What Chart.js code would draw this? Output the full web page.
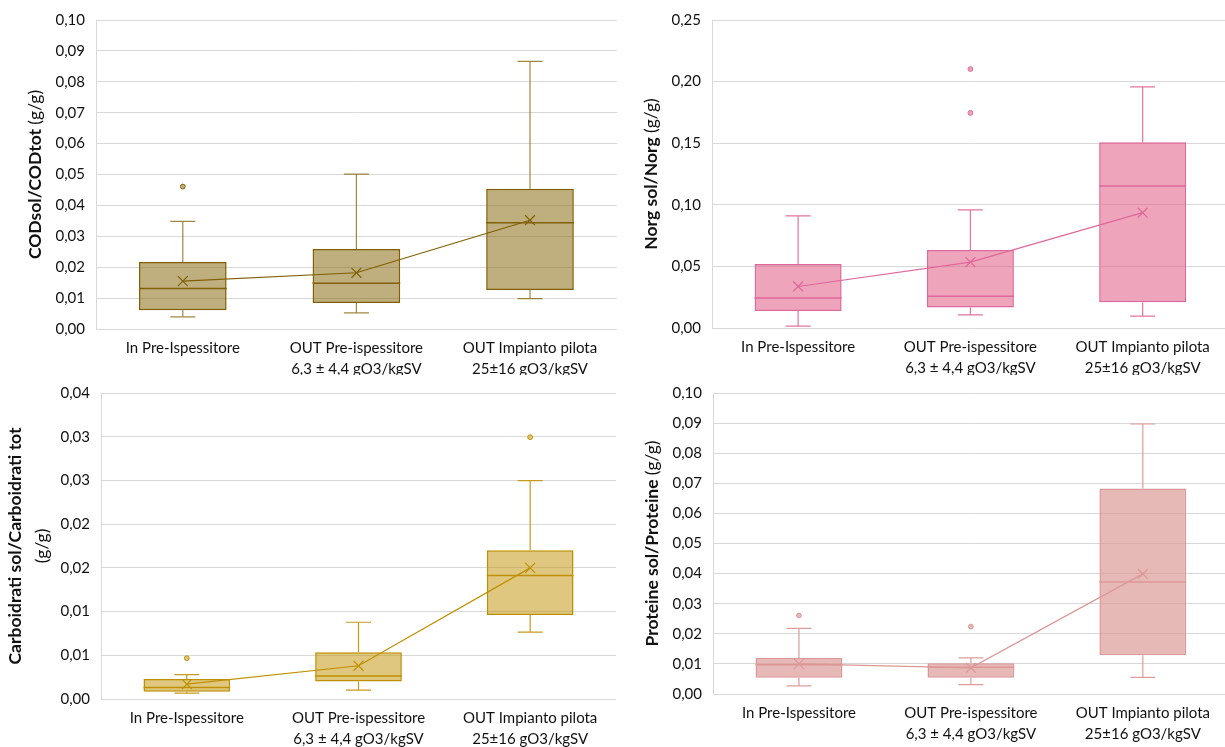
<!DOCTYPE html>
<html>
<head>
<meta charset="utf-8">
<script src="https://cdn.jsdelivr.net/npm/chart.js@4.4.1/dist/chart.umd.min.js"></script>
<style>
  html, body { margin: 0; padding: 0; background: #fff; }
  body { width: 1225px; height: 747px; overflow: hidden; position: relative; }
  canvas { position: absolute; }
</style>
</head>
<body>
<canvas id="cod" width="625" height="375" style="left:0;top:0"></canvas>
<canvas id="norg" width="625" height="375" style="left:612px;top:0"></canvas>
<canvas id="carb" width="625" height="374" style="left:0;top:373px"></canvas>
<canvas id="prot" width="625" height="374" style="left:612px;top:373px"></canvas>
<script>
// Sampling points shared by all four panels
const categories = [
  'In Pre-Ispessitore',
  ['OUT Pre-ispessitore', '6,3 ± 4,4 gO3/kgSV'],
  ['OUT Impianto pilota', '25±16 gO3/kgSV']
];

// COD soluble / COD total
const codQ1 = [0.0061, 0.0084, 0.0126];
const codMedian = [0.0131, 0.0148, 0.0344];
const codQ3 = [0.0217, 0.0259, 0.0454];
const codMin = [0.0039, 0.0052, 0.0098];
const codMax = [0.0348, 0.0501, 0.0866];
const codMean = [0.0155, 0.0182, 0.0352];
const codOutliers = [[0.0461], [], []];
const codTicks = ['0,00', '0,01', '0,02', '0,03', '0,04', '0,05', '0,06', '0,07', '0,08', '0,09', '0,10'];

// Norg soluble / Norg
const norgQ1 = [0.0139, 0.0166, 0.0209];
const norgMedian = [0.0244, 0.0257, 0.1153];
const norgQ3 = [0.0519, 0.0634, 0.1508];
const norgMin = [0.0016, 0.0107, 0.0096];
const norgMax = [0.0910, 0.0958, 0.1957];
const norgMean = [0.0337, 0.0535, 0.0936];
const norgOutliers = [[], [0.2102, 0.1746], []];
const norgTicks = ['0,00', '0,05', '0,10', '0,15', '0,20', '0,25'];

// Carbohydrates soluble / total
const carbQ1 = [0.00083, 0.0020, 0.0096];
const carbMedian = [0.00132, 0.00264, 0.01413];
const carbQ3 = [0.00229, 0.00535, 0.0170];
const carbMin = [0.00068, 0.00102, 0.00765];
const carbMax = [0.00279, 0.00878, 0.02498];
const carbMean = [0.0017, 0.0038, 0.0150];
const carbOutliers = [[0.00467], [], [0.02995]];
const carbTicks = ['0,00', '0,01', '0,01', '0,02', '0,02', '0,03', '0,03', '0,04'];

// Proteins soluble / total
const protQ1 = [0.0054, 0.0054, 0.0129];
const protMedian = [0.0097, 0.0089, 0.0372];
const protQ3 = [0.0120, 0.0102, 0.0683];
const protMin = [0.0027, 0.0031, 0.0055];
const protMax = [0.0218, 0.0120, 0.0897];
const protMean = [0.0100, 0.0087, 0.0399];
const protOutliers = [[0.0261], [0.0224], []];
const protTicks = ['0,00', '0,01', '0,02', '0,03', '0,04', '0,05', '0,06', '0,07', '0,08', '0,09', '0,10'];

const FONT = 'Lato, "Open Sans", sans-serif';
const GRID = '#D9D9D9';
const TEXT = '#111111';

// Whiskers, caps and median lines, drawn right after the box bars
const boxExtras = {
  id: 'boxExtras',
  afterDatasetDraw(chart, args) {
    if (args.index !== 0) return;
    const o = chart.options.plugins.boxExtras;
    const y = chart.scales.y;
    const meta = chart.getDatasetMeta(0);
    const ctx = chart.ctx;
    ctx.save();
    meta.data.forEach((bar, i) => {
      const cx = bar.x;
      const half = bar.width / 2;
      const yQ1 = y.getPixelForValue(o.q1[i]);
      const yQ3 = y.getPixelForValue(o.q3[i]);
      const yLo = y.getPixelForValue(o.min[i]);
      const yHi = y.getPixelForValue(o.max[i]);
      const yMed = y.getPixelForValue(o.median[i]);
      ctx.strokeStyle = o.whiskerColor;
      ctx.lineWidth = 1.2;
      ctx.beginPath();
      ctx.moveTo(cx, yQ3); ctx.lineTo(cx, yHi);
      ctx.moveTo(cx - o.cap, yHi); ctx.lineTo(cx + o.cap, yHi);
      ctx.moveTo(cx, yQ1); ctx.lineTo(cx, yLo);
      ctx.moveTo(cx - o.cap, yLo); ctx.lineTo(cx + o.cap, yLo);
      ctx.stroke();
      ctx.strokeStyle = o.medianColor;
      ctx.lineWidth = 1.5;
      ctx.beginPath();
      ctx.moveTo(cx - half, yMed); ctx.lineTo(cx + half, yMed);
      ctx.stroke();
    });
    ctx.restore();
  }
};

// Rotated y-axis title with a bold part and a regular part
const axisTitle = {
  id: 'axisTitle',
  afterDraw(chart) {
    const o = chart.options.plugins.axisTitle;
    const ctx = chart.ctx;
    const area = chart.chartArea;
    const cy = (area.top + area.bottom) / 2;
    ctx.save();
    ctx.fillStyle = TEXT;
    ctx.textBaseline = 'middle';
    o.lines.forEach(line => {
      ctx.save();
      ctx.translate(line.x, cy);
      ctx.rotate(-Math.PI / 2);
      const bold = 'bold ' + o.size + 'px ' + FONT;
      const reg = o.size + 'px ' + FONT;
      ctx.font = bold;
      const wb = line.bold ? ctx.measureText(line.bold).width : 0;
      ctx.font = reg;
      const wr = line.regular ? ctx.measureText(line.regular).width : 0;
      let sx = -(wb + wr) / 2;
      ctx.textAlign = 'left';
      if (line.bold) { ctx.font = bold; ctx.fillText(line.bold, sx, 0); sx += wb; }
      if (line.regular) { ctx.font = reg; ctx.fillText(line.regular, sx, 0); }
      ctx.restore();
    });
    ctx.restore();
  }
};

function makeBoxChart(id, s) {
  // one point dataset per outlier rank, aligned with the categories
  const rank = Math.max(...s.outliers.map(l => l.length));
  const outlierSets = [];
  for (let k = 0; k < rank; k++) {
    outlierSets.push({
      type: 'line',
      data: s.outliers.map(l => (k < l.length ? l[k] : null)),
      showLine: false,
      pointStyle: 'circle',
      pointRadius: 2.4,
      pointBorderWidth: 1,
      pointBackgroundColor: s.dot,
      pointBorderColor: s.border,
      order: 2
    });
  }
  const boxes = s.q1.map((v, i) => [v, s.q3[i]]);
  return new Chart(document.getElementById(id), {
    type: 'bar',
    data: {
      labels: categories,
      datasets: [
        {
          type: 'bar',
          data: boxes,
          backgroundColor: s.fill,
          borderColor: s.border,
          borderWidth: 1.5,
          borderSkipped: false,
          categoryPercentage: 1,
          barPercentage: 0.505,
          order: 3
        },
        {
          type: 'line',
          data: s.mean,
          borderColor: s.border,
          borderWidth: 1.2,
          pointStyle: 'crossRot',
          pointRadius: 7,
          pointBorderWidth: 1.2,
          pointBorderColor: s.border,
          fill: false,
          order: 1
        },
        ...outlierSets
      ]
    },
    options: {
      responsive: false,
      animation: false,
      devicePixelRatio: 1,
      layout: { padding: { top: s.padTop, right: s.padRight, left: 0, bottom: 0 } },
      plugins: {
        legend: { display: false },
        tooltip: { enabled: false },
        boxExtras: {
          q1: s.q1, q3: s.q3, min: s.min, max: s.max, median: s.median,
          cap: 12.5, whiskerColor: s.whisker, medianColor: s.border
        },
        axisTitle: { size: 17.5, lines: s.title }
      },
      scales: {
        x: {
          type: 'category',
          offset: true,
          grid: { display: false, drawTicks: false },
          border: { display: false },
          ticks: {
            color: TEXT,
            font: { family: FONT, size: 15, lineHeight: 1.4 },
            padding: 9,
            maxRotation: 0,
            autoSkip: false
          },
          afterFit(scale) { scale.height = s.xHeight; }
        },
        y: {
          min: 0,
          max: s.max_,
          ticks: {
            stepSize: s.step,
            color: TEXT,
            font: { family: FONT, size: 15 },
            padding: 11,
            callback: (v, i) => s.ticks[i]
          },
          grid: { color: GRID, lineWidth: 1, drawTicks: false },
          border: { display: true, color: GRID, width: 1 },
          afterFit(scale) { scale.width = s.yWidth; }
        }
      }
    },
    plugins: [boxExtras, axisTitle]
  });
}

makeBoxChart('cod', {
  q1: codQ1, q3: codQ3, median: codMedian, min: codMin, max: codMax, mean: codMean,
  outliers: codOutliers, ticks: codTicks, max_: 0.10, step: 0.01,
  fill: 'rgba(128,96,0,0.5)', border: '#806000', whisker: 'rgba(128,96,0,0.75)', dot: '#BFAF7F',
  yWidth: 96, xHeight: 46, padTop: 19, padRight: 6,
  title: [{ x: 35, bold: 'CODsol/CODtot ', regular: '(g/g)' }]
});

makeBoxChart('norg', {
  q1: norgQ1, q3: norgQ3, median: norgMedian, min: norgMin, max: norgMax, mean: norgMean,
  outliers: norgOutliers, ticks: norgTicks, max_: 0.25, step: 0.05,
  fill: 'rgba(222,80,124,0.52)', border: '#E0679A', whisker: '#E3749F', dot: '#EDA3B8',
  yWidth: 100, xHeight: 47, padTop: 16, padRight: 5,
  title: [{ x: 39, bold: 'Norg sol/Norg ', regular: '(g/g)' }]
});

makeBoxChart('carb', {
  q1: carbQ1, q3: carbQ3, median: carbMedian, min: carbMin, max: carbMax, mean: carbMean,
  outliers: carbOutliers, ticks: carbTicks, max_: 0.035, step: 0.005,
  fill: 'rgba(191,144,0,0.5)', border: '#BF9000', whisker: '#C69B1C', dot: '#DFC77F',
  yWidth: 101, xHeight: 48, padTop: 16, padRight: 9,
  title: [
    { x: 15, bold: 'Carboidrati sol/Carboidrati tot', regular: '' },
    { x: 42, bold: '', regular: '(g/g)' }
  ]
});

makeBoxChart('prot', {
  q1: protQ1, q3: protQ3, median: protMedian, min: protMin, max: protMax, mean: protMean,
  outliers: protOutliers, ticks: protTicks, max_: 0.10, step: 0.01,
  fill: 'rgba(218,150,148,0.68)', border: '#DC9898', whisker: '#DE9C9C', dot: '#E6B8B8',
  yWidth: 101, xHeight: 53, padTop: 13, padRight: 6,
  title: [{ x: 40, bold: 'Proteine sol/Proteine ', regular: '(g/g)' }]
});
</script>
</body>
</html>
